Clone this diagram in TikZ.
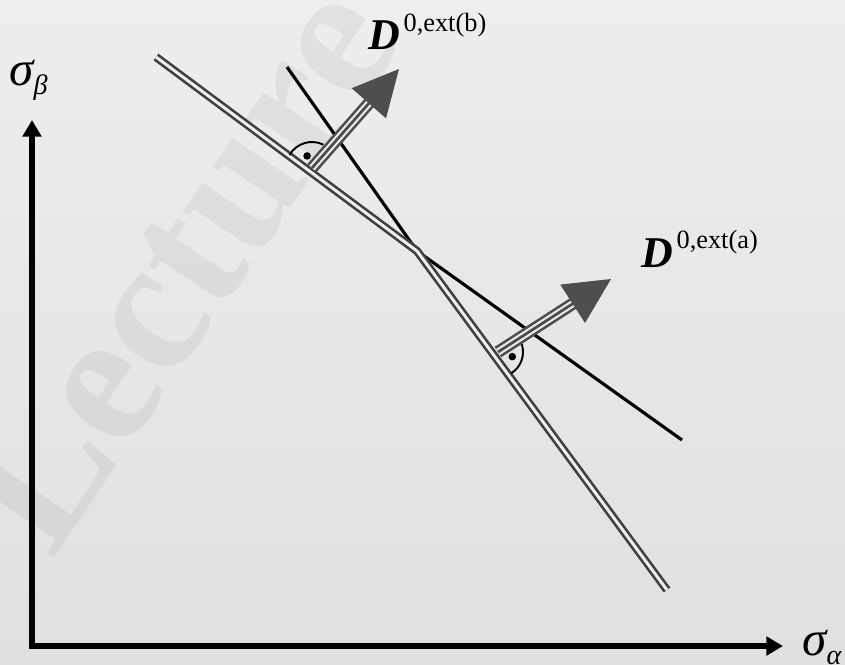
\documentclass[tikz,border=0pt]{standalone}
\usepackage{fontspec}
\setmainfont{Liberation Serif}
\usetikzlibrary{arrows.meta,calc,positioning}
\definecolor{bgtop}{HTML}{EEEEEE}
\definecolor{bgbottom}{HTML}{E0E0E0}
\definecolor{darkgrey}{HTML}{4E4E4E}
\definecolor{stripe}{HTML}{EEEEEE}

\begin{document}
\begin{tikzpicture}[
    x=0.02cm, y=0.02cm,
    axisline/.style={line width=3.2pt, {Triangle[length=9.5pt,width=10.5pt]}-{Triangle[length=9.5pt,width=10.5pt]}},
    yieldline/.style={draw=black!75, line width=1.5pt, double=stripe, double distance=1.7pt, line join=miter},
    tangent/.style={draw=black, line width=1.8pt},
    shaft/.style={draw=darkgrey, line width=7pt},
    shaftstripe/.style={draw=stripe, line width=1.2pt, double=darkgrey, double distance=1.6pt},
    normalhead/.style={fill=darkgrey},
    rightangle/.style={draw=black, line width=1.1pt},
    lbl/.style={inner sep=0pt, anchor=base west}
]

    % Background and watermark
    \useasboundingbox (0,0) rectangle (845,664);
    \shade[top color=bgtop, bottom color=bgbottom] (0,0) rectangle (845,664);
    \node[rotate=56, text=black, opacity=0.05, font=\fontsize{108}{108}\selectfont\bfseries] (mark) at (178,398) {Lecture};

    % Axes
    \coordinate (O) at (32,18);
    \coordinate (ytip) at (32,544);
    \coordinate (xtip) at (783,18);
    \draw[axisline] (ytip) -- (O) -- (xtip);
    \node[lbl] (sb) at (9,579) {{\fontsize{28}{32}\selectfont\itshape σ}\raisebox{-5.5pt}{\fontsize{16}{18}\selectfont\itshape β}};
    \node[lbl] (sa) at (802,9) {{\fontsize{28}{32}\selectfont\itshape σ}\raisebox{-5.5pt}{\fontsize{16}{18}\selectfont\itshape α}};

    % Yield surface with corner C
    \coordinate (P1) at (156,607);
    \coordinate (C) at (417,413);
    \coordinate (P2) at (667,74);
    \coordinate (Tb) at (287,597);
    \coordinate (Ta) at (682,224);
    \draw[tangent] (Tb) -- (C);
    \draw[tangent] (C) -- (Ta);
    \draw[yieldline] (P1) -- (C) -- (P2);

    % Normal b
    \coordinate (nb) at (312,496);
    \coordinate (tb) at (399,595);
    \draw[shaft] (nb) -- ($(tb)!25pt!(nb)$);
    \draw[shaftstripe] (nb) -- ($(tb)!25pt!(nb)$);
    \fill[normalhead] (tb) -- ($(tb)!29.07pt!26.57:(nb)$) -- ($(tb)!29.07pt!-26.57:(nb)$) -- cycle;
    \draw[rightangle] ($(nb)+(64:26)$) arc[start angle=64, end angle=150, radius=26];
    \fill ($(nb)+(112:13)$) circle[radius=3.8];
    \node[lbl] (Db) at (368,614) {{\fontsize{25}{29}\selectfont\bfseries\itshape D}\kern2pt\raisebox{10.5pt}{\fontsize{15}{17}\selectfont 0,ext(b)}};

    % Normal a
    \coordinate (na) at (498,312);
    \coordinate (ta) at (611,385);
    \draw[shaft] (na) -- ($(ta)!25pt!(na)$);
    \draw[shaftstripe] (na) -- ($(ta)!25pt!(na)$);
    \fill[normalhead] (ta) -- ($(ta)!29.07pt!26.57:(na)$) -- ($(ta)!29.07pt!-26.57:(na)$) -- cycle;
    \draw[rightangle] ($(na)+(18:25)$) arc[start angle=18, end angle=-58, radius=25];
    \fill ($(na)+(-18:15)$) circle[radius=3.8];
    \node[lbl] (Da) at (641,397) {{\fontsize{25}{29}\selectfont\bfseries\itshape D}\kern2pt\raisebox{10.5pt}{\fontsize{15}{17}\selectfont 0,ext(a)}};

\end{tikzpicture}
\end{document}
